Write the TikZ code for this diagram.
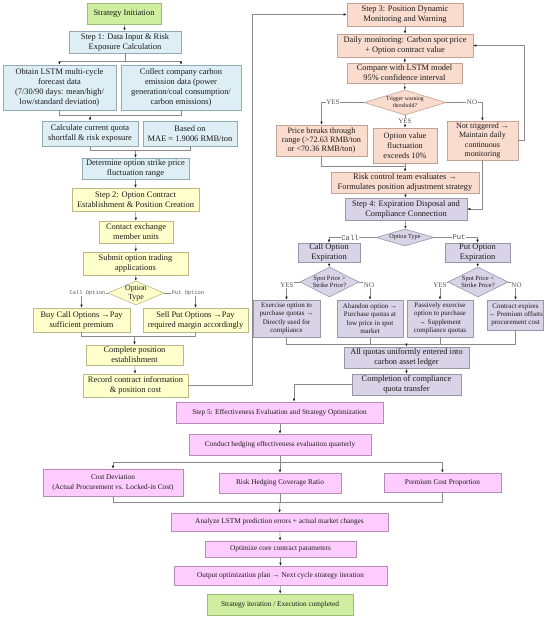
\documentclass[tikz,border=0pt]{standalone}
\usepackage{fontspec}
\setmainfont{Liberation Serif}
\newfontfamily\monof{Liberation Mono}
\usetikzlibrary{shapes.geometric,arrows.meta,calc}
\definecolor{gfill}{HTML}{CFEEA0}
\definecolor{gdraw}{HTML}{9DBB7A}
\definecolor{bfill}{HTML}{DDEEF5}
\definecolor{bdraw}{HTML}{93A9B6}
\definecolor{yfill}{HTML}{FFFFCC}
\definecolor{ydraw}{HTML}{BDB88A}
\definecolor{sfill}{HTML}{FADCCF}
\definecolor{sdraw}{HTML}{C4A295}
\definecolor{lfill}{HTML}{D9D3E8}
\definecolor{ldraw}{HTML}{9A96A8}
\definecolor{pfill}{HTML}{FFCCFF}
\definecolor{pdraw}{HTML}{B48CB4}
\definecolor{linec}{HTML}{8A8A8A}
\definecolor{tipc}{HTML}{202020}
\definecolor{txtc}{HTML}{1A1A1A}
\definecolor{lblc}{HTML}{555555}
\begin{document}
\begin{tikzpicture}[x=1pt,y=-1pt,
  >={Latex[length=3pt,width=2.5pt,color=tipc]},
  sz/.style 2 args={minimum width=#1pt,minimum height=#2pt},
  bx/.style={draw,align=center,inner sep=0.5pt,line width=0.6pt,text=txtc,font=\fontsize{8.4}{10}\selectfont},
  gbx/.style={bx,fill=gfill,draw=gdraw},
  bbx/.style={bx,fill=bfill,draw=bdraw},
  ybx/.style={bx,fill=yfill,draw=ydraw},
  sbx/.style={bx,fill=sfill,draw=sdraw},
  lbx/.style={bx,fill=lfill,draw=ldraw},
  pbx/.style={bx,fill=pfill,draw=pdraw,font=\fontsize{7.3}{10}\selectfont},
  dia/.style={diamond,draw,inner sep=0pt,line width=0.6pt},
  dtxt/.style={align=center,text=txtc,inner sep=0pt},
  ln/.style={draw=linec,line width=0.55pt},
  ar/.style={ln,->},
  lbl/.style={fill=white,inner sep=0.6pt,text=lblc,font=\fontsize{7}{8}\selectfont},
  mlbl/.style={fill=white,inner sep=0.6pt,text=lblc,font=\monof\fontsize{5.4}{6}\selectfont},
  mlblb/.style={fill=white,inner sep=0.6pt,text=lblc,font=\monof\fontsize{7.2}{8}\selectfont},
  sm/.style={font=\fontsize{7}{8.4}\selectfont}
]
\fill[white] (0,0) rectangle (550,619);
\useasboundingbox (0,0) rectangle (550,619);

% ---------- left column ----------
\node[gbx,sz={74}{21}] (init) at (124,13.5) {Strategy Initiation};
\node[bbx,sz={112}{22}] (s1) at (125,42) {Step 1: Data Input \& Risk\\Exposure Calculation};
\node[bbx,sz={113}{45}] (lstm) at (59.5,87.5) {Obtain LSTM multi-cycle\\forecast data\\(7/30/90 days: mean/high/\\low/standard deviation)};
\node[bbx,sz={120}{45}] (coll) at (181,87.5) {Collect company carbon\\emission data (power\\generation/coal consumption/\\carbon emissions)};
\node[bbx,sz={96}{25}] (calc) at (90,133.5) {Calculate current quota\\shortfall \& risk exposure};
\node[bbx,sz={94}{25}] (mae) at (190,133.5) {Based on\\MAE = 1.9006 RMB/ton};
\node[bbx,sz={107}{21}] (det) at (135.5,168.5) {Determine option strike price\\fluctuation range};
\node[ybx,sz={127}{23}] (s2) at (135.5,199.5) {Step 2: Option Contract\\Establishment \& Position Creation};
\node[ybx,sz={74}{22}] (cont) at (136,232) {Contact exchange\\member units};
\node[ybx,sz={105}{23}] (subm) at (135.5,263.5) {Submit option trading\\applications};
\node[dia,fill=yfill,draw=ydraw,sz={56}{24}] (ot1) at (136,293) {};
\node[dtxt,font=\fontsize{7.8}{8.6}\selectfont] (ot1t) at (ot1) {Option\\Type};
\node[ybx,sz={97}{24}] (buy) at (81.5,320) {Buy Call Options →Pay\\sufficient premium};
\node[ybx,sz={105}{24}] (sell) at (195.5,320) {Sell Put Options →Pay\\required margin accordingly};
\node[ybx,sz={97}{20}] (cpe) at (134.5,355) {Complete position\\establishment};
\node[ybx,sz={105}{23}] (rec) at (135.5,385.5) {Record contract information\\\& position cost};

% ---------- right column ----------
\node[sbx,sz={116}{23}] (s3) at (405,14.5) {Step 3: Position Dynamic\\Monitoring and Warning};
\node[sbx,sz={136}{23}] (daily) at (405,45.5) {Daily monitoring: Carbon spot price\\+ Option contract value};
\node[sbx,sz={115}{20}] (comp) at (404.5,73) {Compare with LSTM model\\95\% confidence interval};
\node[dia,fill=sfill,draw=sdraw,sz={82}{25}] (trig) at (405,102.5) {};
\node[dtxt,font=\fontsize{5.8}{7}\selectfont] (trigt) at (trig) {Trigger warning\\threshold?};
\node[sbx,sz={91}{31},font=\fontsize{8.2}{9.3}\selectfont] (price) at (321.5,140.5) {Price breaks through\\range (>72.63 RMB/ton\\or <70.36 RMB/ton)};
\node[sbx,sz={64}{35},font=\fontsize{8.2}{9.8}\selectfont] (ov) at (405,145.5) {Option value\\fluctuation\\exceeds 10\%};
\node[sbx,sz={71}{39},font=\fontsize{8}{9.4}\selectfont] (nt) at (482.5,140.5) {Not triggered →\\Maintain daily\\continuous\\monitoring};
\node[sbx,sz={148}{21}] (risk) at (405,182.5) {Risk control team evaluates →\\Formulates position adjustment strategy};
\node[lbx,sz={122}{22}] (s4) at (406,209) {Step 4: Expiration Disposal and\\Compliance Connection};
\node[dia,fill=lfill,draw=ldraw,sz={58}{17}] (ot2) at (405,237.5) {};
\node[dtxt,font=\fontsize{6.2}{7}\selectfont] (ot2t) at (ot2) {Option Type};
\node[lbx,sz={62}{19}] (callx) at (329,252.5) {Call Option\\Expiration};
\node[lbx,sz={65}{19}] (putx) at (477.5,252.5) {Put Option\\Expiration};
\node[dia,fill=lfill,draw=ldraw,sz={59}{30}] (spg) at (329.5,282) {};
\node[dtxt,font=\fontsize{6.5}{7.5}\selectfont] (spgt) at (spg) {Spot Price >\\Strike Price?};
\node[dia,fill=lfill,draw=ldraw,sz={60}{30}] (spl) at (478,282) {};
\node[dtxt,font=\fontsize{6.5}{7.5}\selectfont] (splt) at (spl) {Spot Price <\\Strike Price?};
\node[lbx,sm,sz={67}{37}] (exer) at (286.5,318.5) {Exercise option to\\purchase quotas →\\Directly used for\\compliance};
\node[lbx,sm,sz={66}{37}] (aband) at (370,318.5) {Abandon option →\\Purchase quotas at\\low price in spot\\market};
\node[lbx,sm,sz={66}{37}] (pass) at (440,318.5) {Passively exercise\\option to purchase\\→ Supplement\\compliance quotas};
\node[lbx,sm,sz={55}{30}] (cexp) at (515.5,315) {Contract expires\\→ Premium offsets\\procurement cost};
\node[lbx,sz={125}{21}] (allq) at (406.5,357.5) {All quotas uniformly entered into\\carbon asset ledger};
\node[lbx,sz={109}{21}] (compl) at (406.5,384.5) {Completion of compliance\\quota transfer};

% ---------- bottom ----------
\node[pbx,sz={207}{21}] (s5) at (279.5,412.5) {Step 5: Effectiveness Evaluation and Strategy Optimization};
\node[pbx,sz={182}{21}] (cond) at (280,444.5) {Conduct hedging effectiveness evaluation quarterly};
\node[pbx,sz={140}{27}] (cdev) at (113,482.5) {Cost Deviation\\(Actual Procurement vs. Locked-in Cost)};
\node[pbx,sz={122}{20}] (rhcr) at (280,483) {Risk Hedging Coverage Ratio};
\node[pbx,sz={117}{19}] (prem) at (442.5,482.5) {Premium Cost Proportion};
\node[pbx,sz={217}{18}] (anal) at (279.5,522) {Analyze LSTM prediction errors + actual market changes};
\node[pbx,sz={151}{16}] (optz) at (280.5,549) {Optimize core contract parameters};
\node[pbx,sz={213}{19}] (outp) at (280.5,575.5) {Output optimization plan → Next cycle strategy iteration};
\node[gbx,sz={146}{21},font=\fontsize{7.3}{9}\selectfont] (fin) at (280,604.5) {Strategy iteration / Execution completed};

% ---------- connectors: left ----------
\coordinate (j1) at (125,61);
\coordinate (j2) at (90,115);
\coordinate (j3) at (135.5,150);
\coordinate (j4) at (134.5,336);
\coordinate (j5) at (252,385.5);
\coordinate (j6) at (252,14.5);
\draw[ar] (init) -- (s1);
\draw[ar] (s1.south) -- (j1) -| (lstm.north);
\draw[ar] (j1) -| (coll.north);
\draw[ln] (lstm.south) |- (j2);
\draw[ln] (coll.south) |- (j2);
\draw[ar] (j2) -- (calc.north);
\draw[ln] (calc.south) |- (j3);
\draw[ln] (mae.south) |- (j3);
\draw[ar] (j3) -- (det.north);
\draw[ar] (det) -- (s2);
\draw[ar] (s2) -- (cont);
\draw[ar] (cont) -- (subm);
\draw[ar] (subm) -- (ot1);
\draw[ar] (ot1.west) -| (buy.north);
\draw[ar] (ot1.east) -| (sell.north);
\node[mlbl] (lcall) at (87.5,293) {Call Option};
\node[mlbl] (lput) at (188,293) {Put Option};
\draw[ln] (buy.south) |- (j4);
\draw[ln] (sell.south) |- (j4);
\draw[ar] (j4) -- (cpe.north);
\draw[ar] (cpe) -- (rec);
\draw[ar] (rec.east) -- (j5) -- (j6) -- (s3.west);

% ---------- connectors: right ----------
\coordinate (j7) at (405,166);
\coordinate (j8) at (524,140.5);
\coordinate (j9) at (524,45.5);
\coordinate (j10) at (482.5,209);
\coordinate (j11) at (406.5,344);
\coordinate (j12) at (294,384.5);
\draw[ar] (s3) -- (daily);
\draw[ar] (daily) -- (comp);
\draw[ar] (comp) -- (trig);
\draw[ar] (trig.west) -| (price.north);
\draw[ar] (trig.east) -| (nt.north);
\draw[ar] (trig.south) -- (ov.north);
\node[lbl] (ly1) at (333,102.5) {YES};
\node[lbl] (ln1) at (472,102.5) {NO};
\node[lbl] (ly2) at (405,121) {YES};
\draw[ln] (price.south) |- (j7);
\draw[ar] (ov.south) -- (risk.north);
\draw[ar] (nt.east) -- (j8) -- (j9) -- (daily.east);
\draw[ar] (nt.south) -- (j10) -- (s4.east);
\draw[ar] (risk) -- (s4);
\draw[ar] (s4) -- (ot2);
\draw[ar] (ot2.west) -| (callx.north);
\draw[ar] (ot2.east) -| (putx.north);
\node[mlblb] (lc2) at (350,237.5) {Call};
\node[mlblb] (lp2) at (459,237.5) {Put};
\draw[ar] (callx) -- (spg);
\draw[ar] (putx) -- (spl);
\draw[ar] (spg.west) -| (exer.north);
\draw[ar] (spg.east) -| (aband.north);
\draw[ar] (spl.west) -| (pass.north);
\draw[ar] (spl.east) -| (cexp.north);
\node[lbl] (ly3) at (287,285) {YES};
\node[lbl] (ln3) at (369,285) {NO};
\node[lbl] (ly4) at (440,285) {YES};
\node[lbl] (ln4) at (516.5,285) {NO};
\draw[ln] (exer.south) |- (j11);
\draw[ln] (cexp.south) |- (j11);
\draw[ln] (aband.south) -- (aband.south |- j11);
\draw[ln] (pass.south) -- (pass.south |- j11);
\draw[ar] (j11) -- (allq.north);
\draw[ar] (allq) -- (compl);
\draw[ar] (compl.west) -- (j12) -- (j12 |- s5.north);

% ---------- connectors: bottom ----------
\coordinate (j13) at (280,462);
\coordinate (j14) at (280,502);
\draw[ar] (s5.south -| cond.north) -- (cond.north);
\draw[ar] (cond.south) -- (j13) -| (cdev.north);
\draw[ar] (j13) -| (prem.north);
\draw[ar] (j13) -- (rhcr.north);
\draw[ln] (cdev.south) |- (j14);
\draw[ln] (prem.south) |- (j14);
\draw[ln] (rhcr.south) -- (j14);
\draw[ar] (j14) -- (anal.north);
\draw[ar] (anal) -- (optz);
\draw[ar] (optz) -- (outp);
\draw[ar] (outp) -- (fin);
\end{tikzpicture}
\end{document}
